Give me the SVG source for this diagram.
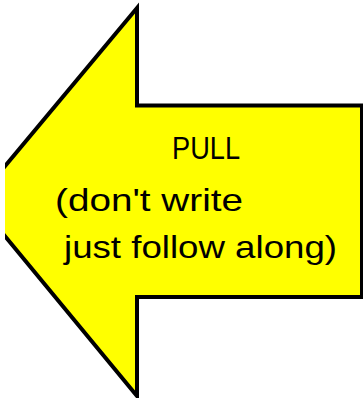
<svg xmlns="http://www.w3.org/2000/svg" width="363" height="398" viewBox="0 0 363 398">
<style>
.arrow{fill:#ffff00;stroke:#000;stroke-width:4;stroke-linejoin:miter}
.t{font-family:"Liberation Sans",Arial,sans-serif;font-size:32px;fill:#000}
</style>
<rect width="363" height="398" fill="#fff"/>
<g id="arrow">
<polygon class="arrow" points="137,8 137,105.5 362,105.5 362,297 137,297 137,396 -24,201"/>
<rect x="0" y="0" width="5" height="398" fill="#fff"/>
</g>
<g id="label">
<text class="t" x="172" y="159" textLength="68" lengthAdjust="spacingAndGlyphs">PULL</text>
<text class="t" x="55" y="211" textLength="188" lengthAdjust="spacingAndGlyphs">(don't write</text>
<text class="t" x="64" y="258" textLength="273" lengthAdjust="spacingAndGlyphs">just follow along)</text>
</g>
<g id="connectors"/>
</svg>
